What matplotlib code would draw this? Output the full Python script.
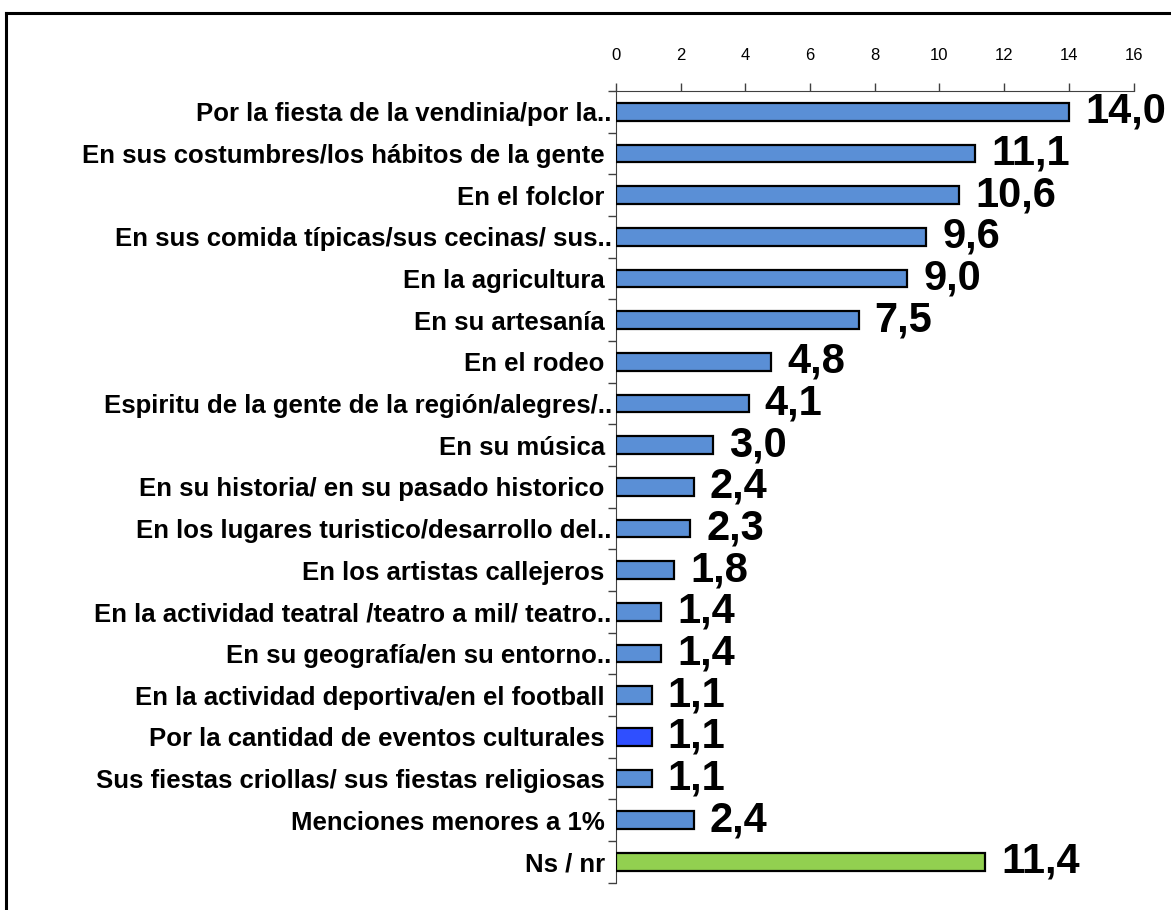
import matplotlib.pyplot as plt
from matplotlib.lines import Line2D
import numpy as np

plt.rcParams['font.family'] = ['Liberation Sans', 'DejaVu Sans']

categories = [
    "Por la fiesta de la vendinia/por la..",
    "En sus costumbres/los hábitos de la gente ",
    "En el folclor ",
    "En sus comida típicas/sus cecinas/ sus..",
    "En la agricultura ",
    "En su artesanía ",
    "En el rodeo ",
    "Espiritu de la gente de la región/alegres/..",
    "En su música ",
    "En su historia/ en su pasado historico ",
    "En los lugares turistico/desarrollo del..",
    "En los artistas callejeros ",
    "En la actividad teatral /teatro a mil/ teatro..",
    "En su geografía/en su entorno..",
    "En la actividad deportiva/en el football ",
    "Por la cantidad de eventos culturales ",
    "Sus fiestas criollas/ sus fiestas religiosas ",
    "Menciones menores a 1% ",
    "Ns / nr ",
]
values = [14.0, 11.1, 10.6, 9.6, 9.0, 7.5, 4.8, 4.1, 3.0, 2.4, 2.3, 1.8, 1.4, 1.4, 1.1, 1.1, 1.1, 2.4, 11.4]

blue = '#5A8FD6'
colors = [blue] * len(values)
colors[15] = '#2F4FFF'
colors[18] = '#92D050'

fig = plt.figure(figsize=(11.71, 9.10), dpi=100)
ax = fig.add_axes([0.526, 0.03, 0.442, 0.87])

y = np.arange(len(values))
ax.barh(y, values, height=0.42, color=colors, edgecolor='black', linewidth=1.6, zorder=3)

for yi, v in zip(y, values):
    ax.text(v + 0.5, yi, f"{v:.1f}".replace('.', ','), va='center', ha='left',
            fontsize=30, fontweight='bold', color='black',
            family=['Liberation Sans Narrow', 'Liberation Sans'])

ax.set_xlim(0, 16)
ax.set_ylim(len(values) - 0.5, -0.5)
ax.set_xticks(np.arange(0, 17, 2))
ax.xaxis.tick_top()
ax.tick_params(axis='x', direction='out', length=6, width=1, labelsize=12, pad=14, color='#404040')

ax.set_yticks(y)
ax.set_yticklabels(categories, fontsize=18.5, fontweight='bold')
ax.tick_params(axis='y', which='major', length=0, pad=3)
ax.set_yticks(np.arange(-0.5, len(values), 1), minor=True)
ax.tick_params(axis='y', which='minor', direction='out', length=6, width=1, color='#404040')

for s in ['right', 'bottom']:
    ax.spines[s].set_visible(False)
ax.spines['top'].set_color('#404040')
ax.spines['left'].set_color('#404040')

# outer frame (only top and left edges visible)
fig.add_artist(Line2D([0.0055, 1.0], [0.986, 0.986], color='black', linewidth=2.2, transform=fig.transFigure))
fig.add_artist(Line2D([0.0055, 0.0055], [0.0, 0.986], color='black', linewidth=2.2, transform=fig.transFigure))

fig.savefig('out.png', dpi=100)
